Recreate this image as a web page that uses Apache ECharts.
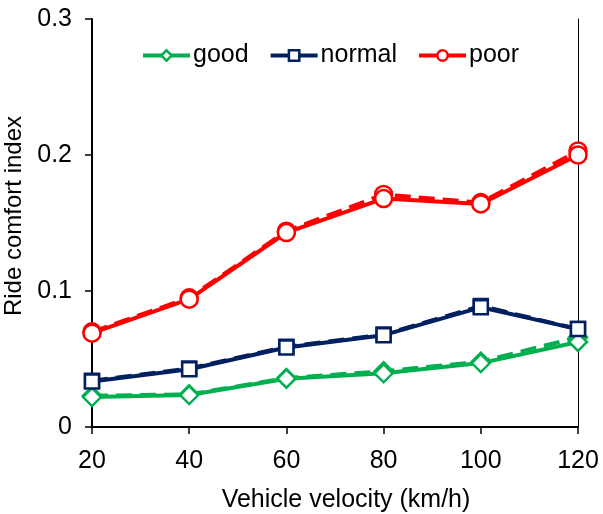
<!DOCTYPE html>
<html><head><meta charset="utf-8">
<script src="https://cdn.jsdelivr.net/npm/echarts@6/dist/echarts.min.js"></script>
<style>html,body{margin:0;padding:0;background:#fff}#c{width:603px;height:514px}</style>
</head><body><div id="c"></div>
<script>
var velocity = [20, 40, 60, 80, 100, 120];
var goodSolid = [0.022, 0.0235, 0.0355, 0.0395, 0.047, 0.0625];
var goodDashed = [0.023, 0.024, 0.036, 0.041, 0.048, 0.066];
var normalSolid = [0.0335, 0.0425, 0.0585, 0.0675, 0.088, 0.072];
var normalDashed = [0.034, 0.043, 0.059, 0.068, 0.089, 0.072];
var poorSolid = [0.069, 0.094, 0.143, 0.168, 0.164, 0.200];
var poorDashed = [0.070, 0.095, 0.144, 0.171, 0.165, 0.203];
var yTicks = [0, 0.1, 0.2, 0.3];

function pairs(ys){ return velocity.map(function(x,i){return [x, ys[i]];}); }
var FONT = '"Liberation Sans", Arial, sans-serif';
var GREEN = '#00b050', NAVY = '#002060', RED = '#ff0000';

function mk(name, ys, color, symbol, size, dashed){
  return {
    name: name, type: 'line', data: pairs(ys),
    symbol: symbol, symbolSize: size, showSymbol: true,
    lineStyle: {color: color, width: 4, type: dashed ? 'dashed' : 'solid'},
    itemStyle: {color: '#fff', borderColor: color, borderWidth: 2.5},
    z: dashed ? 2 : 3, animation: false
  };
}

var chart = echarts.init(document.getElementById('c'));
chart.setOption({
  animation: false,
  backgroundColor: '#fff',
  grid: {left: 92, right: 25, top: 19, bottom: 87, outerBoundsMode: 'none', containLabel: false},
  legend: {
    data: ['good', 'normal', 'poor'],
    top: 38, left: 136,
    itemWidth: 47, itemHeight: 13, itemGap: 20,
    lineStyle: {width: 4},
    itemStyle: {borderWidth: 2.5},
    textStyle: {fontFamily: FONT, fontSize: 25, color: '#000', padding: [0,0,0,-2]}
  },
  xAxis: {
    type: 'value', min: 20, max: 120, interval: 20,
    name: 'Vehicle velocity (km/h)', nameLocation: 'middle', nameGap: 61,
    nameTextStyle: {fontFamily: FONT, fontSize: 25, color: '#000', padding: [0,0,0,22]},
    axisLine: {show: true, onZero: false, lineStyle: {color: '#000', width: 2}},
    axisTick: {show: true, inside: false, length: 7, lineStyle: {color: '#000', width: 1.5}},
    axisLabel: {fontFamily: FONT, fontSize: 25, color: '#000', margin: 22},
    splitLine: {show: false}
  },
  yAxis: [{
    type: 'value', min: 0, max: 0.3, interval: 0.1,
    name: 'Ride comfort index', nameLocation: 'middle', nameGap: 56, nameRotate: 90,
    nameTextStyle: {fontFamily: FONT, fontSize: 24, color: '#000', padding: [0,0,0,14]},
    axisLine: {show: true, lineStyle: {color: '#000', width: 2}},
    axisTick: {show: true, inside: false, length: 7, lineStyle: {color: '#000', width: 1.5}},
    axisLabel: {fontFamily: FONT, fontSize: 25, color: '#000', margin: 20,
      formatter: function(v){ var t = yTicks.find(function(k){return Math.abs(k-v)<1e-9;}); return t === 0 ? '0' : String(t); }},
    splitLine: {show: false}
  }, {
    type: 'value', min: 0, max: 0.3, interval: 0.1, position: 'right',
    axisLine: {show: true, lineStyle: {color: '#000', width: 1}},
    axisTick: {show: false}, axisLabel: {show: false}, splitLine: {show: false}
  }],
  series: [
    mk('good_d', goodDashed, GREEN, 'diamond', 18, true),
    mk('normal_d', normalDashed, NAVY, 'rect', 14, true),
    mk('poor_d', poorDashed, RED, 'circle', 17, true),
    mk('good', goodSolid, GREEN, 'diamond', 18, false),
    mk('normal', normalSolid, NAVY, 'rect', 14, false),
    mk('poor', poorSolid, RED, 'circle', 17, false)
  ]
});
</script></body></html>
